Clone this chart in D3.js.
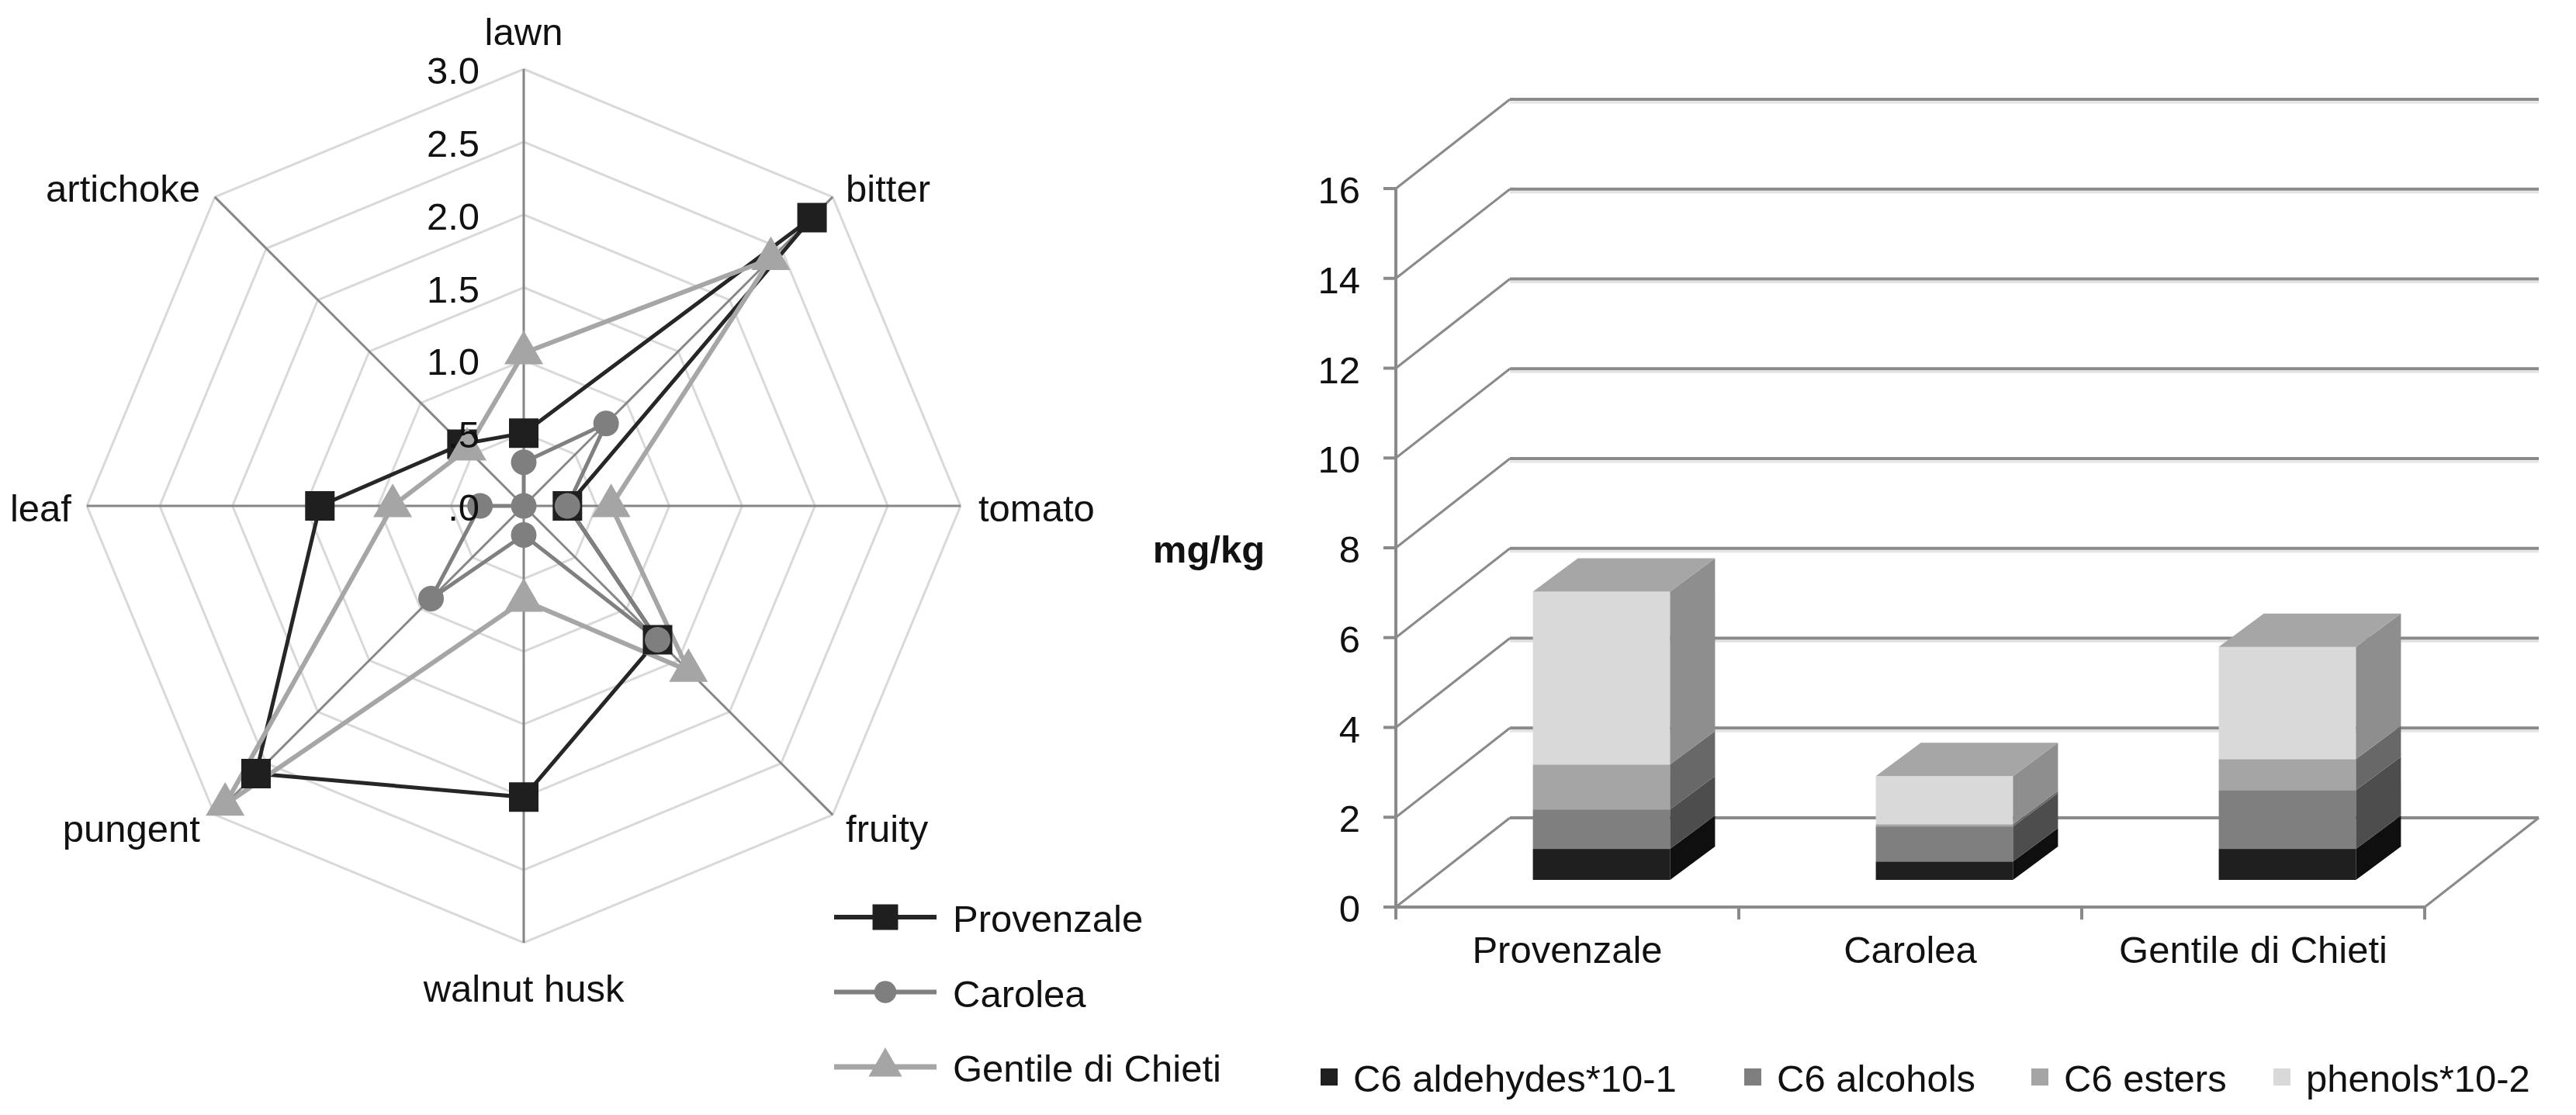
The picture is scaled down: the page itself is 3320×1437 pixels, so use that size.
<!DOCTYPE html>
<html>
<head>
<meta charset="utf-8">
<script src="https://cdn.jsdelivr.net/npm/d3@7/dist/d3.min.js"></script>
<style>
  html, body { margin: 0; padding: 0; background: #fff; }
  svg { display: block; font-family: "Liberation Sans", Arial, sans-serif; }
</style>
</head>
<body>
<svg id="chart" width="3320" height="1437"></svg>
<script>
// ---------------- DATA ----------------
const radarAxes = ["lawn", "bitter", "tomato", "fruity", "walnut husk", "pungent", "leaf", "artichoke"];
const radarTicks = [0, 0.5, 1.0, 1.5, 2.0, 2.5, 3.0];
const radarTickLabels = [".0", ".5", "1.0", "1.5", "2.0", "2.5", "3.0"];
const cultivars = ["Provenzale", "Carolea", "Gentile di Chieti"];
const provenzale = [0.5, 2.8, 0.3, 1.3, 2.0, 2.6, 1.4, 0.6];
const carolea    = [0.3, 0.8, 0.3, 1.3, 0.2, 0.9, 0.3, 0.0];
const gentile    = [1.05, 2.4, 0.6, 1.6, 0.65, 2.9, 0.9, 0.55];

const barCategories = ["Provenzale", "Carolea", "Gentile di Chieti"];
const compounds = ["C6 aldehydes*10-1", "C6 alcohols", "C6 esters", "phenols*10-2"];
const aldehydes = [0.69, 0.41, 0.69];
const alcohols  = [0.88, 0.78, 1.31];
const esters    = [1.00, 0.05, 0.69];
const phenols   = [3.85, 1.07, 2.50];
const barTicks  = [0, 2, 4, 6, 8, 10, 12, 14, 16];
const unitLabel = "mg/kg";

// ---------------- STYLES ----------------
const FONT = 49;
const svg = d3.select("#chart");

// ================= RADAR =================
const cx = 675, cy = 652;
const rScale = d3.scaleLinear().domain([0, 3]).range([0, 563]);
const aScale = d3.scaleLinear().domain([0, radarAxes.length]).range([0, 2 * Math.PI]);
const radar = svg.append("g").attr("transform", `translate(${cx},${cy})`);

function pt(i, v) {
  const a = aScale(i), r = rScale(v);
  return [r * Math.sin(a), -r * Math.cos(a)];
}

// rings
radarTicks.filter(t => t > 0).forEach(t => {
  radar.append("polygon")
    .attr("points", radarAxes.map((_, i) => pt(i, t).join(",")).join(" "))
    .attr("fill", "none").attr("stroke", "#d9d9d9").attr("stroke-width", 3);
});
// spokes
radarAxes.forEach((_, i) => {
  const p = pt(i, 3);
  radar.append("line").attr("x1", 0).attr("y1", 0).attr("x2", p[0]).attr("y2", p[1])
    .attr("stroke", "#868686").attr("stroke-width", 3);
});

// axis category labels
const labelPos = [
  { dx: 0, dy: -48, anchor: "middle" },   // lawn
  { dx: 17, dy: -11, anchor: "start" },   // bitter
  { dx: 23, dy: 3, anchor: "start" },     // tomato
  { dx: 17, dy: 18, anchor: "start" },    // fruity
  { dx: 0, dy: 59, anchor: "middle" },    // walnut husk
  { dx: -19, dy: 18, anchor: "end" },     // pungent
  { dx: -20, dy: 3, anchor: "end" },      // leaf
  { dx: -19, dy: -11, anchor: "end" }     // artichoke
];
radarAxes.forEach((name, i) => {
  const p = pt(i, 3);
  radar.append("text")
    .attr("x", p[0] + labelPos[i].dx).attr("y", p[1] + labelPos[i].dy)
    .attr("text-anchor", labelPos[i].anchor).attr("dominant-baseline", "central")
    .attr("font-size", FONT).attr("fill", "#111").text(name);
});

// series
const series = [
  { name: cultivars[0], values: provenzale, color: "#262626", marker: "#1f1f1f", sym: d3.symbolSquare, size: 1444, w: 5 },
  { name: cultivars[1], values: carolea,    color: "#808080", marker: "#7f7f7f", sym: d3.symbolCircle, size: 855,  w: 5 },
  { name: cultivars[2], values: gentile,    color: "#a6a6a6", marker: "#a5a5a5", sym: d3.symbolTriangle, size: 1083, w: 6 }
];
const lineGen = d3.lineRadial()
  .angle((d, i) => aScale(i))
  .radius(d => rScale(d))
  .curve(d3.curveLinearClosed);

series.forEach(s => {
  radar.append("path").attr("d", lineGen(s.values))
    .attr("fill", "none").attr("stroke", s.color).attr("stroke-width", s.w)
    .attr("stroke-linejoin", "miter");
});
series.forEach(s => {
  s.values.forEach((v, i) => {
    const p = pt(i, v);
    radar.append("path").attr("d", d3.symbol().type(s.sym).size(s.size)())
      .attr("transform", `translate(${p[0]},${p[1]})`)
      .attr("fill", s.marker);
  });
});

// tick labels (on top)
radarTicks.forEach((t, k) => {
  radar.append("text")
    .attr("x", -57).attr("y", -rScale(t) + 2)
    .attr("text-anchor", "end").attr("dominant-baseline", "central")
    .attr("font-size", FONT).attr("fill", "#111").text(radarTickLabels[k]);
});

// radar legend
const leg = svg.append("g");
series.forEach((s, k) => {
  const y = 1182 + k * 96.5;
  leg.append("line").attr("x1", 1075).attr("x2", 1207).attr("y1", y).attr("y2", y)
    .attr("stroke", s.color).attr("stroke-width", s.w + 1);
  leg.append("path").attr("d", d3.symbol().type(s.sym).size(s.size * 0.75)())
    .attr("transform", `translate(1141,${y})`).attr("fill", s.marker);
  leg.append("text").attr("x", 1228).attr("y", y + 2)
    .attr("dominant-baseline", "central").attr("font-size", FONT).attr("fill", "#111")
    .text(s.name);
});

// ================= 3D STACKED BAR =================
const x0 = 1799, x1 = 3125;
const depthX = 147, depthY = -115;        // floor depth
const barOffX = 44, barOffY = -35;        // bar front plane offset
const barDX = 58, barDY = -43;            // bar depth
const y = d3.scaleLinear().domain([0, 16]).range([1169, 243]);
const xBand = d3.scaleBand().domain(barCategories).range([x0, x1]).paddingInner(0).paddingOuter(0);
const bar = svg.append("g");
const GRID = "#8a8a8a";

// back wall gridlines + left wall diagonals
barTicks.forEach(t => {
  const yy = y(t);
  if (t > 0) {
    bar.append("line").attr("x1", x0 + depthX).attr("x2", x1 + depthX)
      .attr("y1", yy + depthY + 4).attr("y2", yy + depthY + 4)
      .attr("stroke", "#e4e4e4").attr("stroke-width", 3);
    bar.append("line").attr("x1", x0 + depthX).attr("x2", x1 + depthX)
      .attr("y1", yy + depthY).attr("y2", yy + depthY)
      .attr("stroke", GRID).attr("stroke-width", 4);
  }
  bar.append("line").attr("x1", x0).attr("y1", yy)
    .attr("x2", x0 + depthX).attr("y2", yy + depthY)
    .attr("stroke", GRID).attr("stroke-width", 3);
});
// floor back line and right floor edge
bar.append("line").attr("x1", x0 + depthX).attr("x2", x1 + depthX)
  .attr("y1", y(0) + depthY).attr("y2", y(0) + depthY)
  .attr("stroke", GRID).attr("stroke-width", 4);
bar.append("line").attr("x1", x1).attr("y1", y(0))
  .attr("x2", x1 + depthX).attr("y2", y(0) + depthY)
  .attr("stroke", GRID).attr("stroke-width", 3);

// axes
bar.append("line").attr("x1", x0).attr("x2", x0).attr("y1", y(16) - 1).attr("y2", y(0) + 2)
  .attr("stroke", GRID).attr("stroke-width", 4);
barTicks.forEach(t => {
  bar.append("line").attr("x1", x0 - 16).attr("x2", x0).attr("y1", y(t)).attr("y2", y(t))
    .attr("stroke", GRID).attr("stroke-width", 4);
  bar.append("text").attr("x", 1753).attr("y", y(t) + 2)
    .attr("text-anchor", "end").attr("dominant-baseline", "central")
    .attr("font-size", FONT).attr("fill", "#111").text(t);
});
bar.append("line").attr("x1", x0).attr("x2", x1).attr("y1", y(0)).attr("y2", y(0))
  .attr("stroke", GRID).attr("stroke-width", 4);
[x0, ...barCategories.map(c => xBand(c) + xBand.bandwidth())].forEach(xx => {
  bar.append("line").attr("x1", xx).attr("x2", xx).attr("y1", y(0)).attr("y2", y(0) + 16)
    .attr("stroke", GRID).attr("stroke-width", 4);
});
barCategories.forEach(c => {
  bar.append("text").attr("x", xBand(c) + xBand.bandwidth() / 2).attr("y", 1241)
    .attr("text-anchor", "middle").attr("font-size", FONT).attr("fill", "#111").text(c);
});

// unit label
svg.append("text").attr("x", 1558).attr("y", 708).attr("text-anchor", "middle")
  .attr("dominant-baseline", "central").attr("font-size", FONT).attr("font-weight", "bold")
  .attr("fill", "#111").text(unitLabel);

// bars
const frontCol = ["#1f1f1f", "#7f7f7f", "#a5a5a5", "#d9d9d9"];
const sideCol  = ["#0f0f0f", "#4d4d4d", "#686868", "#8e8e8e"];
const topCol   = "#a6a6a6";
const seriesVals = [aldehydes, alcohols, esters, phenols];
const barW = xBand.bandwidth() * 0.4;
const stack = d3.stack().keys(d3.range(compounds.length)).value((d, k) => seriesVals[k][d]);
const stacked = stack(d3.range(barCategories.length));

barCategories.forEach((c, ci) => {
  const xl = xBand(c) + (xBand.bandwidth() - barW) / 2 + barOffX;
  const xr = xl + barW;
  stacked.forEach((layer, k) => {
    const [v0, v1] = layer[ci];
    if (v1 - v0 <= 0) return;
    const yb = y(v0) + barOffY, yt = y(v1) + barOffY;
    bar.append("rect").attr("x", xl).attr("y", yt).attr("width", barW).attr("height", yb - yt)
      .attr("fill", frontCol[k]);
    bar.append("polygon")
      .attr("points", [[xr, yb], [xr + barDX, yb + barDY], [xr + barDX, yt + barDY], [xr, yt]].map(p => p.join(",")).join(" "))
      .attr("fill", sideCol[k]);
  });
  const top = y(stacked[stacked.length - 1][ci][1]) + barOffY;
  bar.append("polygon")
    .attr("points", [[xl, top], [xl + barDX, top + barDY], [xr + barDX, top + barDY], [xr, top]].map(p => p.join(",")).join(" "))
    .attr("fill", topCol);
});

// bar legend
const legX = [1702, 2248, 2618, 2930];
compounds.forEach((name, k) => {
  bar.append("rect").attr("x", legX[k]).attr("y", 1377).attr("width", 22).attr("height", 22)
    .attr("fill", frontCol[k]);
  bar.append("text").attr("x", legX[k] + 42).attr("y", 1390)
    .attr("dominant-baseline", "central").attr("font-size", FONT).attr("fill", "#111").text(name);
});
</script>
</body>
</html>
